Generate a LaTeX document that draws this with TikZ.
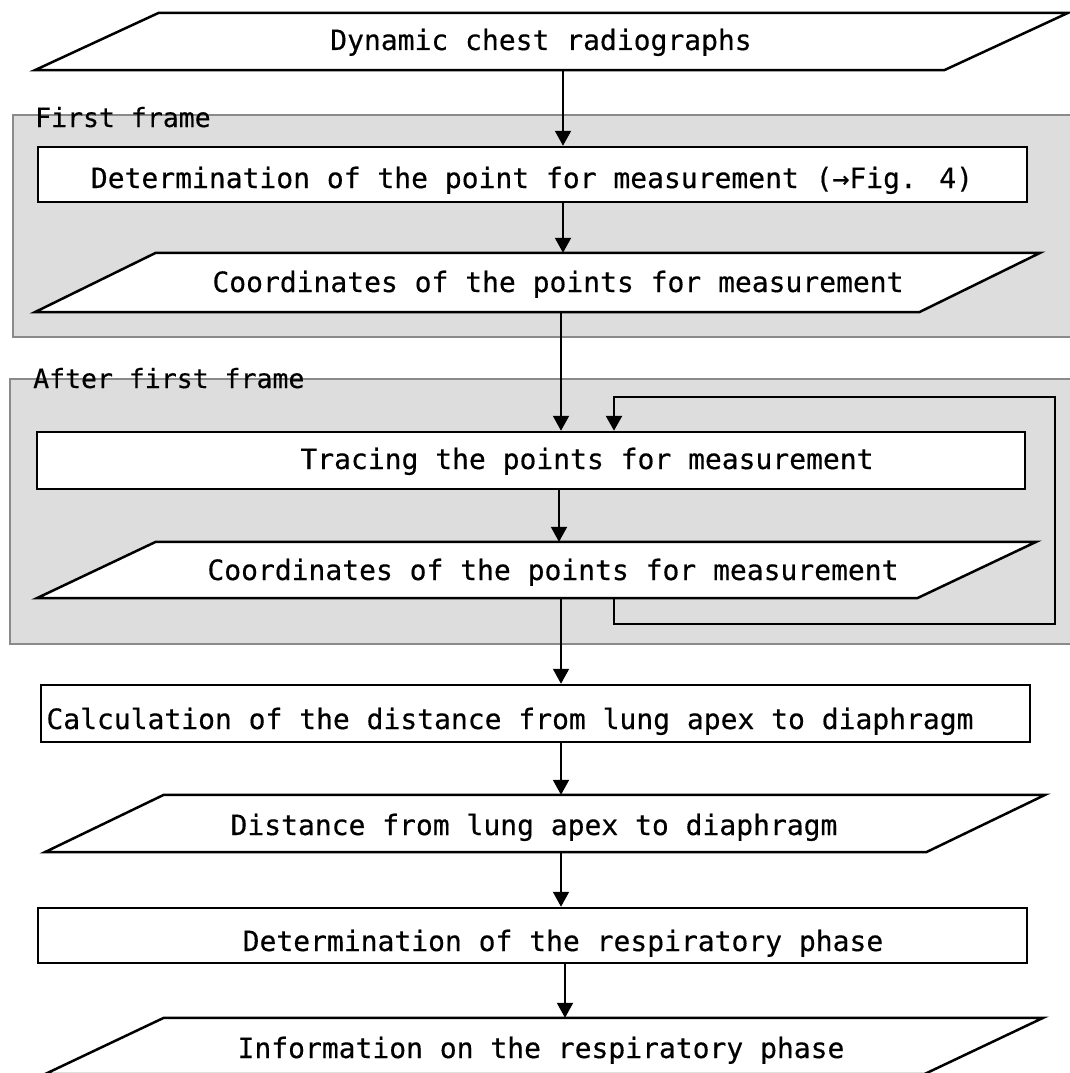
\documentclass[tikz,border=0pt]{standalone}
\usepackage{fontspec}
\usetikzlibrary{arrows.meta,calc}
\newfontfamily\gfont[FakeBold=0.4]{DejaVu Sans Mono}
\newfontfamily\lfont[FakeBold=0.3]{DejaVu Sans Mono}
\definecolor{framefill}{RGB}{221,221,221}
\definecolor{frameline}{RGB}{138,138,138}
\tikzset{
  shp/.style={draw=black, line width=2.5pt, fill=white},
  boxnode/.style={shp, rectangle, inner sep=0pt},
  parnode/.style={rectangle, inner sep=0pt},
  txt/.style={font=\gfont\fontsize{28}{32}\selectfont, inner sep=0pt, anchor=base},
  lbl/.style={font=\lfont\fontsize{26.5}{30}\selectfont, inner sep=0pt, anchor=base west},
  framebox/.style={draw=frameline, fill=framefill, line width=2.2pt, rectangle, inner sep=0pt},
  conn/.style={draw=black, line width=2pt, -{Triangle[width=16pt,length=15pt]}},
  fbline/.style={draw=black, line width=2.6pt, -{Triangle[width=16pt,length=15pt]}},
}
\newcommand\drawpar[2]{%
  \draw[shp] ($(#1.north west)+(#2,0)$) -- (#1.north east) -- ($(#1.south east)-(#2,0)$) -- (#1.south west) -- cycle;}
\begin{document}
\begin{tikzpicture}[x=1pt,y=-1pt]
\useasboundingbox (0,0) rectangle (1070,1073);
\fill[white] (0,0) rectangle (1070,1073);
\clip (0,0) rectangle (1070,1073);

% frames
\node[framebox, minimum width=1077pt, minimum height=222pt] (g1) at (551.5,226) {};
\node[framebox, minimum width=1080pt, minimum height=265pt] (g2) at (550,511.5) {};
\node[lbl] (l1) at (35,127) {First frame};
\node[lbl] (l2) at (33,388) {After first frame};

% shapes
\node[parnode, minimum width=1033pt, minimum height=57pt] (p1) at (551.5,41.5) {};
\drawpar{p1}{124}
\node[boxnode, minimum width=989pt, minimum height=55pt] (b1) at (532.5,174.5) {};
\node[parnode, minimum width=1005pt, minimum height=59pt] (p2) at (537.5,282.5) {};
\drawpar{p2}{121}
\node[boxnode, minimum width=988pt, minimum height=57pt] (b2) at (531,460.5) {};
\node[parnode, minimum width=999pt, minimum height=56pt] (p3) at (536.5,570) {};
\drawpar{p3}{119}
\node[boxnode, minimum width=989pt, minimum height=57pt] (b3) at (535.5,713.5) {};
\node[parnode, minimum width=1000pt, minimum height=57pt] (p4) at (545,823.5) {};
\drawpar{p4}{119}
\node[boxnode, minimum width=989pt, minimum height=55pt] (b4) at (532.5,935.5) {};
\node[parnode, minimum width=998pt, minimum height=56pt] (p5) at (544,1046) {};
\drawpar{p5}{119}

% texts
\node[txt] (t1) at (541,50) {Dynamic chest radiographs};
\node[txt] (t2) at (532,188) {Determination of the point for measurement (→Fig. 4)};
\node[txt] (t3) at (558,292) {Coordinates of the points for measurement};
\node[txt] (t4) at (587,469) {Tracing the points for measurement};
\node[txt] (t5) at (553,580) {Coordinates of the points for measurement};
\node[txt] (t6) at (510,729) {Calculation of the distance from lung apex to diaphragm};
\node[txt] (t7) at (534,835) {Distance from lung apex to diaphragm};
\node[txt] (t8) at (563,951) {Determination of the respiratory phase};
\node[txt] (t9) at (541,1058) {Information on the respiratory phase};

% connectors
\coordinate (xa) at (563,0);
\coordinate (xb) at (561,0);
\coordinate (xc) at (559,0);
\coordinate (xd) at (565,0);
\draw[conn] (xa |- p1.south) -- (xa |- b1.north);
\draw[conn] (xa |- b1.south) -- (xa |- p2.north);
\draw[conn] (xb |- p2.south) -- (xb |- b2.north);
\draw[conn] (xc |- b2.south) -- (xc |- p3.north);
\draw[conn] (xb |- p3.south) -- (xb |- b3.north);
\draw[conn] (xb |- b3.south) -- (xb |- p4.north);
\draw[conn] (xb |- p4.south) -- (xb |- b4.north);
\draw[conn] (xd |- b4.south) -- (xd |- p5.north);

% feedback loop
\coordinate (lx) at (614,0);
\coordinate (lr) at (1055,0);
\coordinate (lb) at (0,624);
\coordinate (lt) at (0,397);
\draw[fbline] (lx |- p3.south) -- (lx |- lb) -- (lr |- lb) -- (lr |- lt) -- (lx |- lt) -- (lx |- b2.north);
\end{tikzpicture}
\end{document}
